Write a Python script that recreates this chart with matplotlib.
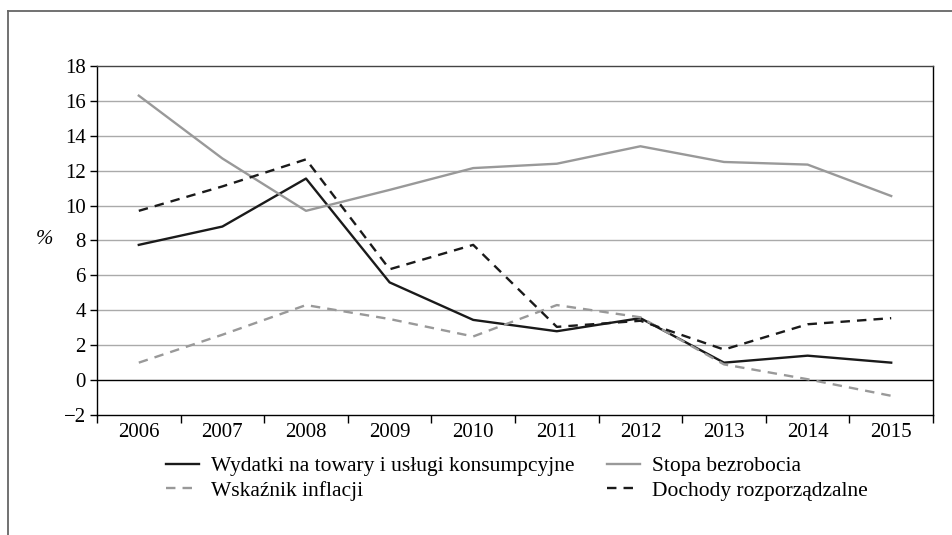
import numpy as np
import matplotlib
matplotlib.use('Agg')
import matplotlib.pyplot as plt
from matplotlib.lines import Line2D

plt.rcParams['font.family'] = ['Liberation Serif', 'DejaVu Serif']
plt.rcParams['font.size'] = 15

# dane (%)
years = ['2006', '2007', '2008', '2009', '2010', '2011', '2012', '2013', '2014', '2015']
wydatki = [7.75, 8.8, 11.55, 5.6, 3.45, 2.8, 3.55, 1.0, 1.4, 1.0]
bezrobocie = [16.3, 12.7, 9.7, 10.9, 12.15, 12.4, 13.4, 12.5, 12.35, 10.55]
inflacja = [1.0, 2.6, 4.3, 3.5, 2.5, 4.3, 3.6, 0.9, 0.05, -0.9]
dochody = [9.7, 11.1, 12.65, 6.35, 7.75, 3.05, 3.4, 1.75, 3.2, 3.55]

fig = plt.figure(figsize=(9.53, 5.35), dpi=100)
ax = fig.add_axes([97 / 953, 1 - 415 / 535, 836 / 953, 349 / 535])

x = np.arange(len(years))

# siatka + linia zera
for v in range(-2, 18, 2):
    if v == 0:
        ax.axhline(v, color='black', lw=1.0, zorder=1)
    elif v != -2:
        ax.axhline(v, color='#aaaaaa', lw=1.0, zorder=1)

l1, = ax.plot(x, wydatki, color='#1a1a1a', lw=1.7, zorder=3,
              label='Wydatki na towary i usługi konsumpcyjne')
l2, = ax.plot(x, bezrobocie, color='#999999', lw=1.7, zorder=3,
              label='Stopa bezrobocia')
l3, = ax.plot(x, inflacja, color='#999999', lw=1.7, ls=(0, (4, 3)), zorder=3,
              label='Wskaźnik inflacji')
l4, = ax.plot(x, dochody, color='#1a1a1a', lw=1.7, ls=(0, (4, 3)), zorder=3,
              label='Dochody rozporządzalne')

ax.set_xlim(-0.5, len(years) - 0.5)
ax.set_ylim(-2, 18)
ax.set_yticks(range(-2, 20, 2))
ax.set_yticklabels(['\u22122' if v == -2 else str(v) for v in range(-2, 20, 2)])

ax.set_xticks(np.arange(-0.5, len(years), 1.0))
ax.set_xticklabels([])
ax.set_xticks(x, minor=True)
ax.set_xticklabels(years, minor=True)
ax.tick_params(axis='x', which='major', direction='out', length=6, width=1, color='black')
ax.tick_params(axis='x', which='minor', length=0, pad=6, labelsize=15)
ax.tick_params(axis='y', direction='out', length=5, width=1, pad=3, labelsize=15)

for s in ['left', 'bottom', 'right']:
    ax.spines[s].set_color('black')
    ax.spines[s].set_linewidth(1.0)
ax.spines['top'].set_color('#444444')
ax.spines['top'].set_linewidth(1.0)

fig.text(45 / 953, 1 - 240 / 535, '%', fontsize=15, ha='center', va='center', style='italic')

ax.legend(handles=[l1, l3, l2, l4], ncol=2, loc='upper left',
          bbox_to_anchor=(166 / 953, 1 - 456 / 535), bbox_transform=fig.transFigure,
          frameon=False, fontsize=15.5, handlelength=1.55, handletextpad=0.55,
          columnspacing=1.5, labelspacing=0.22, borderaxespad=0, borderpad=0)

# ramka rysunku (góra i lewa strona)
fig.add_artist(Line2D([8 / 953, 1.0], [1 - 10.5 / 535, 1 - 10.5 / 535],
                      transform=fig.transFigure, color='#666666', lw=1.3))
fig.add_artist(Line2D([8.5 / 953, 8.5 / 953], [0.0, 1 - 10.5 / 535],
                      transform=fig.transFigure, color='#666666', lw=1.3))

fig.savefig('out.png', dpi=100)
